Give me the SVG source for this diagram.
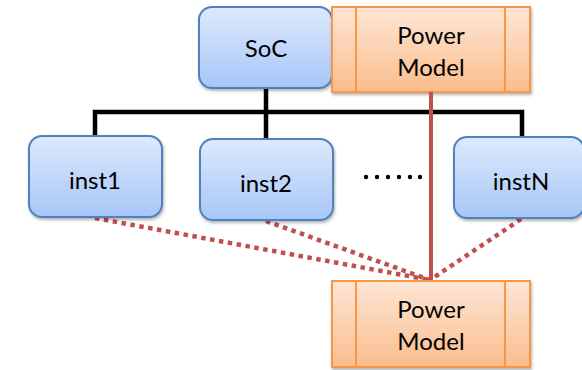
<svg xmlns="http://www.w3.org/2000/svg" width="582" height="370" viewBox="0 0 582 370">
<defs>
<linearGradient id="gb" x1="0" y1="0" x2="0" y2="1"><stop offset="0" stop-color="#dde9fd"/><stop offset="1" stop-color="#a7c6f7"/></linearGradient>
<linearGradient id="go" x1="0" y1="0" x2="0" y2="1"><stop offset="0" stop-color="#fde6d6"/><stop offset="1" stop-color="#fbbd8c"/></linearGradient>
<filter id="sh" x="-10%" y="-10%" width="125%" height="130%"><feDropShadow dx="1" dy="2" stdDeviation="1.5" flood-color="#000" flood-opacity="0.3"/></filter>
<style>
.b{fill:url(#gb);stroke:#4f81bd;stroke-width:2;filter:url(#sh)}
.o{fill:url(#go);stroke:#f79646;stroke-width:2;filter:url(#sh)}
.oi{stroke:#f79646;stroke-width:2;fill:none}
.t{font-family:Lato,"Liberation Sans",sans-serif;font-size:24px;fill:#000;text-anchor:middle}
.bus{stroke:#000;stroke-width:4.5;fill:none}
.red{stroke:#c0504d;stroke-width:4;fill:none}
.dot{stroke:#c0504d;stroke-width:4.5;fill:none;stroke-dasharray:4.5 4.5}
.d{fill:#000}
</style>
</defs>
<g id="connectors">
<polyline class="bus" points="95,137 95,112 522,112 522,138"/>
<line class="bus" x1="266" y1="88" x2="266" y2="139"/>
<line class="dot" x1="95" y1="218" x2="430" y2="280"/>
<line class="dot" x1="266" y1="221" x2="430" y2="280"/>
<line class="dot" x1="521" y1="219" x2="430" y2="280"/>
</g>
<g id="soc"><rect class="b" x="199" y="7" width="133" height="81" rx="13"/><text class="t" x="266" y="57">SoC</text></g>
<g id="inst1"><rect class="b" x="29" y="136" width="133" height="81" rx="13"/><text class="t" x="95" y="189">inst1</text></g>
<g id="inst2"><rect class="b" x="200" y="139" width="133" height="81" rx="13"/><text class="t" x="266" y="192">inst2</text></g>
<g id="instN"><rect class="b" x="454" y="137" width="130" height="81" rx="13"/><text class="t" x="521" y="190">instN</text></g>
<g id="dots"><circle class="d" cx="366" cy="177" r="2.2"/><circle class="d" cx="377" cy="177" r="2.2"/><circle class="d" cx="388" cy="177" r="2.2"/><circle class="d" cx="399" cy="177" r="2.2"/><circle class="d" cx="410" cy="177" r="2.2"/><circle class="d" cx="420" cy="177" r="2.2"/></g>
<g id="pm-top"><rect class="o" x="332" y="7" width="198" height="85"/><line class="oi" x1="356" y1="7" x2="356" y2="92"/><line class="oi" x1="505" y1="7" x2="505" y2="92"/><text class="t" x="431" y="44">Power</text><text class="t" x="431" y="76">Model</text></g>
<g id="redline"><line class="red" x1="431" y1="92" x2="431" y2="281"/></g>
<g id="pm-bottom"><rect class="o" x="332" y="281" width="198" height="86"/><line class="oi" x1="356" y1="281" x2="356" y2="367"/><line class="oi" x1="505" y1="281" x2="505" y2="367"/><text class="t" x="431" y="318">Power</text><text class="t" x="431" y="350">Model</text></g>
</svg>
